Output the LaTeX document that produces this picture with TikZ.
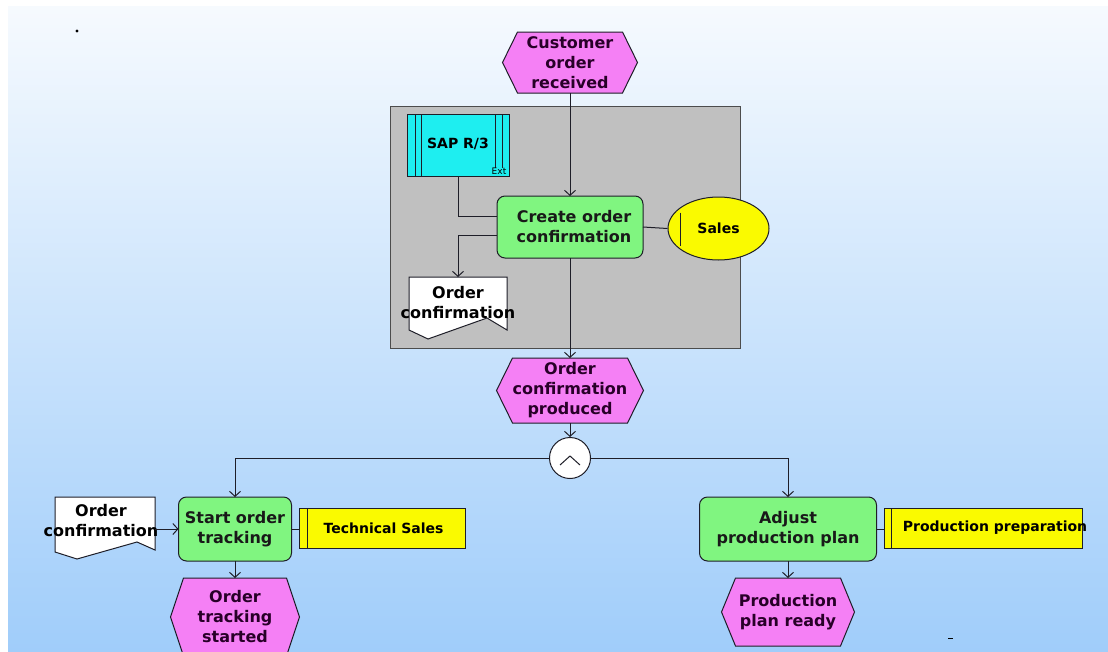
\documentclass[tikz,border=0pt]{standalone}
\usepackage{fontspec}
\setmainfont{DejaVu Sans}
\usetikzlibrary{arrows.meta,calc,shapes.geometric}
\pgfdeclarelayer{back}
\pgfdeclarelayer{shapes}
\pgfsetlayers{back,shapes,main}
\newcommand{\zb}[1]{\makebox[0pt][c]{#1}}
\definecolor{evfill}{RGB}{245,128,245}
\definecolor{fnfill}{RGB}{128,245,128}
\definecolor{orgfill}{RGB}{250,250,0}
\definecolor{sysfill}{RGB}{30,238,240}
\definecolor{grpfill}{RGB}{192,192,192}
\definecolor{bgtop}{RGB}{246,250,254}
\definecolor{bgbot}{RGB}{160,205,250}
\definecolor{linec}{RGB}{30,30,40}
\definecolor{evtext}{RGB}{40,0,40}
\newcommand{\hexa}[2]{%
  \path[evshape] (#1.west) -- ([xshift=#2]#1.north west) -- ([xshift=-#2]#1.north east)
    -- (#1.east) -- ([xshift=-#2]#1.south east) -- ([xshift=#2]#1.south west) -- cycle;}
\begin{document}
\begin{tikzpicture}[x=1pt,y=-1pt,
  base/.style={inner sep=0pt, outer sep=0pt, align=center, font=\fontsize{16}{20}\selectfont\bfseries},
  event/.style={base, text=evtext},
  evshape/.style={fill=evfill, draw=linec, line width=1pt},
  func/.style={base, draw=linec, fill=fnfill, rounded corners=8pt, line width=1pt, text=black!90},
  org/.style={base, draw=linec, fill=orgfill, line width=1pt, font=\fontsize{14}{17}\selectfont\bfseries},
  sys/.style={base, draw=linec, fill=sysfill, line width=1pt, font=\fontsize{14}{17}\selectfont\bfseries},
  docshape/.style={fill=white, draw=linec, line width=1pt},
  conn/.style={draw=linec, line width=1pt},
  arr/.style={conn, -{Straight Barb[length=5pt,width=11pt]}}
]
\useasboundingbox (0,0) rectangle (1108,651);
\begin{pgfonlayer}{back}
  \fill[white] (0,0) rectangle (1108,651);
  \shade[top color=bgtop, bottom color=bgbot] (8,6) rectangle (1108,651);
  \node[draw=black!70, fill=grpfill, line width=1pt, minimum width=350pt, minimum height=242pt, inner sep=0pt] (grp) at (565,227) {};
\end{pgfonlayer}

% artifacts
\fill[black] (77,31) circle (1.6pt);
\draw[black, line width=1pt] (948,638) -- (953,638);

% nodes
\node[event, minimum width=135pt, minimum height=61pt] (e1) at (570,62.5) {\zb{Customer}\\\zb{order}\\\zb{received}};
\node[func, minimum width=146pt, minimum height=62pt] (f1) at (570,227) {\zb{\hspace{8pt}Create order}\\\zb{\hspace{8pt}confirmation}};
\node[sys, minimum width=102pt, minimum height=62pt] (sap) at (458,145) {\raisebox{4pt}{\zb{SAP R/3}}};
\node[draw=linec, fill=orgfill, ellipse, line width=1pt, minimum width=101pt, minimum height=63pt, inner sep=0pt, font=\fontsize{14}{17}\selectfont\bfseries] (sales) at (718.5,228.5) {\zb{Sales}};
\node[base, minimum width=98pt, minimum height=52pt] (doc1) at (458,303) {\zb{Order}\\\zb{confirmation}};
\node[event, minimum width=147pt, minimum height=65pt] (e2) at (570,390.5) {\zb{Order}\\\zb{confirmation}\\\zb{produced}};
\node[circle, draw=linec, fill=white, line width=1pt, minimum size=41pt, inner sep=0pt] (and) at (570,458) {};
\node[func, minimum width=113pt, minimum height=64pt] (f2) at (235,529) {\zb{Start order}\\\zb{tracking}};
\node[org, minimum width=166pt, minimum height=40pt] (tech) at (382,528) {\zb{\hspace{3pt}Technical Sales}};
\node[base, minimum width=100pt, minimum height=47pt] (doc2) at (105,520.5) {\zb{\hspace{-8pt}Order}\\\zb{\hspace{-8pt}confirmation}};
\node[event, minimum width=129pt, minimum height=78pt] (e3) at (235,617) {\zb{Order}\\\zb{tracking}\\\zb{started}};
\node[func, minimum width=177pt, minimum height=64pt] (f3) at (788,529) {\zb{Adjust}\\\zb{production plan}};
\node[org, minimum width=198pt, minimum height=40pt] (pp) at (983,528) {\zb{\hspace{24pt}Production preparation}};
\node[event, minimum width=133pt, minimum height=68pt] (e4) at (788,612) {\zb{Production}\\\zb{plan ready}};

% shapes under text
\begin{pgfonlayer}{shapes}
  \hexa{e1}{15pt}
  \hexa{e2}{16pt}
  \hexa{e3}{13pt}
  \hexa{e4}{14pt}
  \path[docshape] (doc1.north west) -- (doc1.north east) -- ([yshift=-1pt]doc1.south east)
    -- ([xshift=-20pt,yshift=11pt]doc1.south east) -- ([xshift=19pt,yshift=-10pt]doc1.south west)
    -- ([yshift=-1pt]doc1.south west) -- cycle;
  \path[docshape] (doc2.north west) -- (doc2.north east) -- ([yshift=-6pt]doc2.south east)
    -- ([xshift=-18pt,yshift=2pt]doc2.south east) -- ([xshift=22pt,yshift=-15pt]doc2.south west)
    -- ([yshift=-8pt]doc2.south west) -- cycle;
\end{pgfonlayer}

% inner marks
\draw[conn] ([xshift=8pt]sap.north west) -- ([xshift=8pt]sap.south west);
\draw[conn] ([xshift=14pt]sap.north west) -- ([xshift=14pt]sap.south west);
\draw[conn] ([xshift=-14pt]sap.north east) -- ([xshift=-14pt,yshift=8pt]sap.south east);
\draw[conn] ([xshift=-7pt]sap.north east) -- ([xshift=-7pt,yshift=8pt]sap.south east);
\node[inner sep=0pt, font=\fontsize{9}{10}\selectfont] (ext) at ([xshift=-10pt,yshift=4.5pt]sap.south east) {Ext};
\draw[conn] ([xshift=13pt,yshift=16pt]sales.west) -- ([xshift=13pt,yshift=-17pt]sales.west);
\draw[conn] ([xshift=8pt]tech.north west) -- ([xshift=8pt]tech.south west);
\draw[conn] ([xshift=7pt]pp.north west) -- ([xshift=7pt]pp.south west);
\draw[conn] ([shift={(-10pt,-7pt)}]and.center) -- ([shift={(0pt,2pt)}]and.center) -- ([shift={(10pt,-7pt)}]and.center);

% connectors
\draw[arr] (e1.south) -- (f1.north);
\draw[arr] (f1.south) -- (e2.north);
\draw[arr] (e2.south) -- (and.north);
\draw[arr] (and.west) -| (f2.north);
\draw[arr] (and.east) -| (f3.north);
\draw[arr] (f2.south) -- (e3.north);
\draw[arr] (f3.south) -- (e4.north);
\draw[conn] (sap.south) |- ([yshift=11pt]f1.west);
\draw[arr] ([yshift=-8pt]f1.west) -| (doc1.north);
\draw[conn] (f1.east) -- (sales.west);
\draw[arr] (doc2.east |- f2.west) -- (f2.west);
\draw[conn] (f2.east) -- (f2.east -| tech.west);
\draw[conn] (f3.east) -- (f3.east -| pp.west);
\end{tikzpicture}
\end{document}
